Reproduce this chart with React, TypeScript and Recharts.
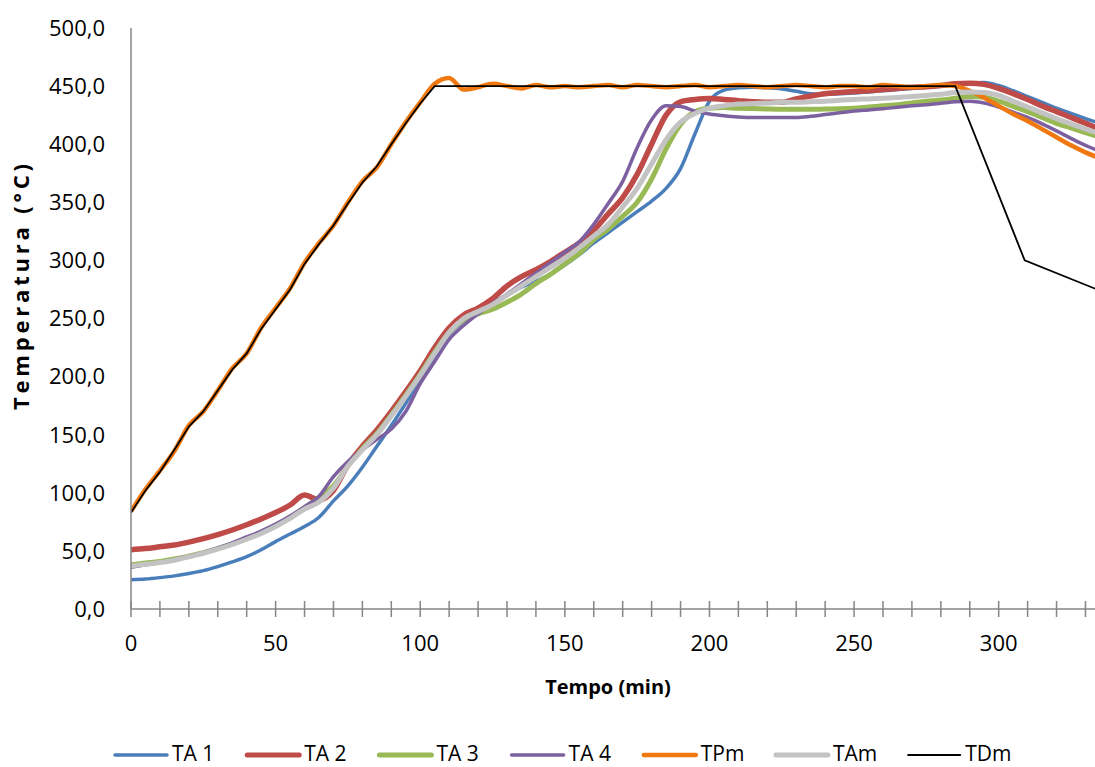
import React from 'react';
import { LineChart, Line, XAxis, YAxis } from 'recharts';

// time axis, minutes (5 min steps)
const minutes = [
  0, 5, 10, 15, 20, 25, 30, 35, 40, 45,
  50, 55, 60, 65, 70, 75, 80, 85, 90, 95,
  100, 105, 110, 115, 120, 125, 130, 135, 140, 145,
  150, 155, 160, 165, 170, 175, 180, 185, 190, 195,
  200, 205, 210, 215, 220, 225, 230, 235, 240, 245,
  250, 255, 260, 265, 270, 275, 280, 285, 290, 295,
  300, 305, 310, 315, 320, 325, 330, 335,
];

const ta1 = [
  25.2, 25.8, 27, 28.5, 30.5, 33, 36.5, 40.5, 45, 51,
  58, 64.5, 71, 79, 93, 106, 122, 140, 158, 177,
  197, 217, 236, 248, 255, 262, 270, 277, 282, 288,
  296, 305, 315, 324, 333, 342, 351, 362, 379, 409,
  437, 446.5, 448.5, 449, 448.5, 447.5, 445.5, 443.5, 443, 443.5,
  444, 445, 446, 447, 448, 449, 450, 451, 452.5, 453,
  450.5, 446, 441, 436, 431, 426.5, 422, 418,
];

const ta2 = [
  51, 52, 53.5, 55, 57.5, 60.5, 64, 68, 72.5, 77.5,
  83, 89.5, 98, 94, 102, 124, 140, 154, 170, 187,
  205, 225, 242, 253, 259, 267, 278, 286, 292, 299,
  307, 315, 326, 340, 354, 374, 400, 425, 436.5, 438.5,
  439.4, 438.5, 437.5, 436.5, 436, 436, 439, 441.5, 443.5, 444.5,
  445.3, 446, 447, 448, 449, 449.5, 450.5, 452, 452.5, 451.5,
  448, 443.5, 438.5, 433, 428, 423, 418, 413,
];

const ta3 = [
  38, 39.5, 41, 43, 45.5, 48.5, 52, 56, 61, 66,
  72, 79, 87, 96, 106, 123, 138, 151, 167, 184,
  202, 221, 238, 249, 254, 258, 264, 271, 280, 288,
  297, 306, 318, 327, 338, 350, 370, 396, 417, 428,
  431, 431.5, 431, 430.7, 430.3, 430, 430, 430, 430.3, 430.5,
  431, 432, 433, 434, 435.5, 437, 438, 439.5, 441, 440.5,
  437, 432.5, 428, 423, 418, 414, 410, 406,
];

const ta4 = [
  36, 38, 40, 42.5, 45.5, 48.5, 52.5, 57, 62, 67,
  73, 80, 88, 97, 114, 127, 137, 146, 155, 170,
  194, 213, 232, 244, 254, 263, 271, 280, 289, 298,
  307, 316, 331, 349, 368, 397, 421, 433, 432.5, 428.5,
  426, 424.5, 423.5, 423, 423, 423, 423, 424, 425.5, 427,
  428.5, 429.5, 430.5, 431.8, 433, 434, 435.2, 436.5, 437, 435.5,
  432, 427.5, 423, 417.5, 411.5, 405, 399, 394,
];

const tpm = [
  84, 103, 119, 136, 158, 170, 188, 207, 220, 242,
  259, 276, 298, 315, 330, 350, 368, 380, 400, 419,
  436, 452, 457, 447, 449, 452, 450, 448, 451, 449,
  450, 449, 450, 451, 449, 451, 450, 449, 450, 451,
  449, 450, 451, 450, 449, 450, 451, 450, 449, 450,
  450, 449, 451, 450, 449, 450, 451, 450, 446, 440,
  433, 426, 420, 413, 406, 399, 393, 388,
];

const tam = [
  37, 38.5, 40, 42, 45, 48, 51.5, 55.5, 60, 65,
  71, 78, 86, 92, 104, 123, 137, 150, 166, 183,
  201, 220, 238, 250, 256, 262, 270, 278, 286, 294,
  302, 311, 321, 331, 346, 362, 383, 404, 419, 426.5,
  431, 433, 434.5, 435, 435.5, 436, 436, 436.5, 437, 437.8,
  438.5, 439, 439.5, 440.2, 441, 442, 443, 444.5, 445, 444.5,
  442, 437, 432, 427, 422, 417.5, 413, 409,
];

// set-point curve has its own time points
const tdmMinutes = [0, 5, 10, 15, 20, 25, 30, 35, 40, 45, 50, 55, 60, 65, 70, 75, 80, 85, 90, 95, 100, 105, 285, 309, 335];
const tdm = [83, 102, 118, 137, 157, 170, 188, 206, 220, 241, 258, 275, 297, 314, 330, 349, 367, 381, 400, 418, 435, 450, 450, 300, 274];

const yTicks = [0, 50, 100, 150, 200, 250, 300, 350, 400, 450, 500];
const xTicks = [0, 10, 20, 30, 40, 50, 60, 70, 80, 90, 100, 110, 120, 130, 140, 150, 160, 170, 180, 190, 200, 210, 220, 230, 240, 250, 260, 270, 280, 290, 300, 310, 320, 330];

const series = [
  { key: 'TA 1', values: ta1, color: '#4A7EBB', width: 3.5, legendWidth: 3.5 },
  { key: 'TA 2', values: ta2, color: '#BE4B48', width: 5.5, legendWidth: 5 },
  { key: 'TA 3', values: ta3, color: '#98B954', width: 5, legendWidth: 5 },
  { key: 'TA 4', values: ta4, color: '#7D60A0', width: 3.5, legendWidth: 3.5 },
  { key: 'TPm', values: tpm, color: '#F07810', width: 4.5, legendWidth: 4.5 },
  { key: 'TAm', values: tam, color: '#C3C3C3', width: 5, legendWidth: 5 },
];

const rows = minutes.map((t, i) => {
  const r: Record<string, number> = { t };
  series.forEach((s) => { r[s.key] = s.values[i]; });
  return r;
});
const tdmRows = tdmMinutes.map((t, i) => ({ t, TDm: tdm[i] }));

const legendItems = [
  ...series.map((s) => ({ name: s.key, color: s.color, width: s.legendWidth })),
  { name: 'TDm', color: '#000000', width: 2 },
];

const AXIS = '#868686';
const FONT = '"Open Sans", sans-serif';

const XTick = (props: any) => {
  const { x, y, payload } = props;
  const v = payload.value;
  return (
    <g>
      <line x1={x} x2={x} y1={y - 8} y2={y + 8} stroke={AXIS} strokeWidth={1.5} />
      {v % 50 === 0 && (
        <text x={x} y={y + 42} textAnchor="middle" fontSize={22} fill="#000">{v}</text>
      )}
    </g>
  );
};

const YTitle = () => (
  <text x={20} y={287} transform="rotate(-90 20 287)" textAnchor="middle" dominantBaseline="central"
    fontSize={22} fontWeight="bold" fill="#000" textLength={246} lengthAdjust="spacing">Temperatura (°C)</text>
);

const XTitle = () => (
  <text x={608} y={686} textAnchor="middle" dominantBaseline="central"
    fontSize={20} fontWeight="bold" fill="#000">Tempo (min)</text>
);

const App: React.FC = () => {
  return (
    // fixed so the page never scrolls; the plot runs to the right edge like the cropped original
    <div style={{ position: 'fixed', left: 0, top: 0, width: 1095, height: 767, fontFamily: FONT, background: '#fff' }}>
      <LineChart width={1095} height={767} data={rows} margin={{ top: 28, right: 0, left: 0, bottom: 98 }}>
        <XAxis dataKey="t" type="number" domain={[0, 333.3]} allowDataOverflow ticks={xTicks} interval={0}
          tickSize={0} tickMargin={0} tick={<XTick />} stroke={AXIS} strokeWidth={1.5} height={60}
          label={<XTitle />} />
        <YAxis type="number" domain={[0, 500]} ticks={yTicks} width={131} tickLine={false} tickSize={0}
          tickMargin={26} stroke={AXIS} strokeWidth={1.5}
          tick={{ fill: '#000', fontSize: 22 }}
          tickFormatter={(v: number) => v.toFixed(1).replace('.', ',')}
          label={<YTitle />} />
        {series.map((s) => (
          <Line key={s.key} dataKey={s.key} type="monotone" stroke={s.color} strokeWidth={s.width}
            dot={false} activeDot={false} isAnimationActive={false} />
        ))}
        <Line data={tdmRows} dataKey="TDm" type="linear" stroke="#000" strokeWidth={1.8}
          dot={false} activeDot={false} isAnimationActive={false} />
      </LineChart>
      {/* legend, laid out like the Excel one */}
      <svg width={1095} height={767} style={{ position: 'absolute', left: 0, top: 0, pointerEvents: 'none' }}>
        {legendItems.map((it, i) => {
          const x0 = 113 + i * 132.2;
          return (
            <g key={it.name}>
              <line x1={x0 + 2} x2={x0 + 54} y1={755} y2={755} stroke={it.color} strokeWidth={it.width} strokeLinecap="round" />
              <text x={x0 + 59} y={760.5} fontSize={21} fill="#000">{it.name}</text>
            </g>
          );
        })}
      </svg>
    </div>
  );
};

export default App;
